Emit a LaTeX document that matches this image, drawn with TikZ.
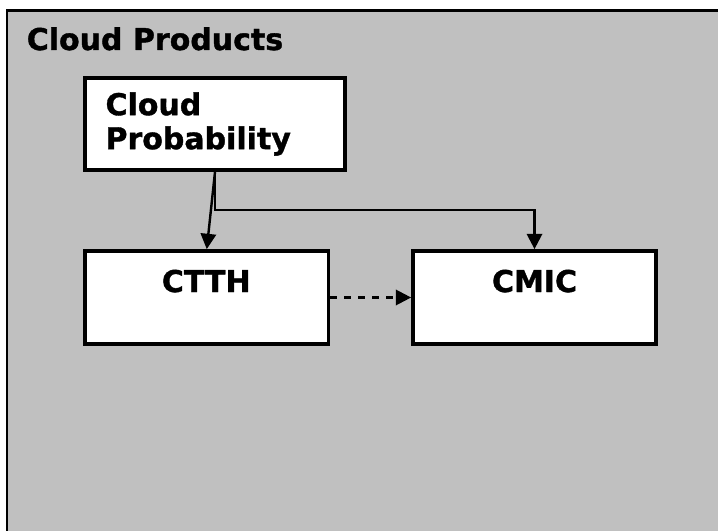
\documentclass[tikz,border=0pt]{standalone}
\usepackage{fontspec}
\setmainfont{DejaVu Sans}[BoldFeatures={FakeBold=1.2}]
\usetikzlibrary{arrows.meta}
\definecolor{panelgray}{HTML}{C0C0C0}
\begin{document}
\begin{tikzpicture}[x=0.75pt,y=-0.75pt,
  txt/.style={font=\bfseries\fontsize{22.5pt}{25.5pt}\selectfont},
  box/.style={draw, fill=white, line width=2.8pt, rectangle, inner sep=0pt},
  link/.style={line width=1.8pt, -{Triangle[length=11.5pt,width=11.5pt]}},
]
\useasboundingbox (0,0) rectangle (718,531);
\fill[white] (0,0) rectangle (718,531);
% panel: only its top and left edges fall inside the page
\fill[panelgray] (7,10.5) rectangle (725,540);
\draw[line width=1.7pt] (7,540) -- (7,10.5) -- (725,10.5);

\node[txt, anchor=base west, inner sep=0pt] (title) at (26.5,50) {Cloud Products};

\node[box, txt, minimum width=195pt, minimum height=69pt, text width=164.2pt,
      inner xsep=15.4pt, align=left] (cp) at (215,124) {Cloud\\Probability};

\node[box, minimum width=182.6pt, minimum height=69.75pt] (ctth) at (206.75,297.5) {};
\node[box, minimum width=182.25pt, minimum height=69.75pt] (cmic) at (534.5,297.5) {};
\node[txt, anchor=base, inner sep=0pt] (ctthlabel) at (206.25,292) {CTTH};
\node[txt, anchor=base, inner sep=0pt] (cmiclabel) at (534.5,292) {CMIC};

\coordinate (bend) at (215,210);
\draw[link] (cp.south) -- (ctth.north);
\draw[link] (cp.south) -- (bend) -| (cmic.north);
\draw[link, dash pattern=on 5pt off 5.5pt] (ctth.east) -- (cmic.west);
\end{tikzpicture}
\end{document}
